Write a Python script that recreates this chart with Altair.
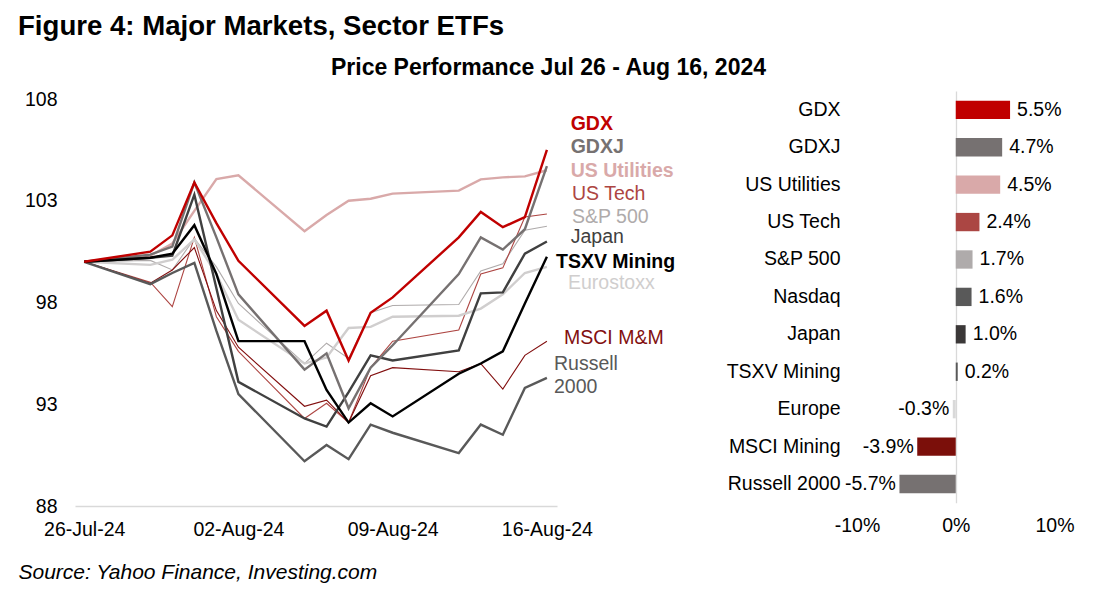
import altair as alt
import pandas as pd
from datetime import datetime, timedelta

FONT = "Liberation Sans"

# ---------------- data: line chart (index, Jul 26 = 100) ----------------
dates = ["2024-07-26", "2024-07-29", "2024-07-30", "2024-07-31", "2024-08-01",
         "2024-08-02", "2024-08-05", "2024-08-06", "2024-08-07", "2024-08-08",
         "2024-08-09", "2024-08-12", "2024-08-13", "2024-08-14", "2024-08-15",
         "2024-08-16"]

series_names = ["Eurostoxx", "S&P 500", "US Utilities", "US Tech", "MSCI M&M",
                "Russell 2000", "Japan", "GDXJ", "TSXV Mining", "GDX"]

eurostoxx = [100, 99.85, 100.1, 101.1, 99.4, 97.15, 95.0, 95.3, 96.75, 96.8, 97.3, 97.35, 97.7, 98.4, 99.45, 99.75]
sp500 = [100, 100.07, 99.6, 101.15, 99.75, 97.95, 95.0, 96.0, 95.25, 97.5, 97.85, 97.9, 99.55, 99.9, 101.55, 101.75]
us_utilities = [100, 100.3, 100.9, 102.5, 104.07, 104.25, 101.5, 102.3, 103.0, 103.1, 103.35, 103.5, 104.05, 104.15, 104.2, 104.5]
us_tech = [100, 99.0, 97.8, 101.2, 97.3, 95.6, 92.3, 93.05, 92.1, 94.8, 96.1, 96.65, 99.4, 99.7, 102.2, 102.35]
msci_mm = [100, 98.95, 99.6, 100.7, 97.6, 95.8, 92.9, 93.2, 92.1, 94.4, 94.8, 94.6, 95.0, 93.75, 95.4, 96.1]
russell = [100, 98.9, 99.45, 99.95, 96.6, 93.5, 90.2, 91.0, 90.3, 92.0, 91.6, 90.6, 92.0, 91.5, 93.8, 94.3]
japan = [100, 100.2, 100.3, 103.3, 98.7, 94.1, 92.3, 91.9, 93.6, 95.4, 95.15, 95.65, 98.45, 98.5, 100.4, 101.0]
gdxj = [100, 100.35, 100.75, 103.9, 101.2, 98.4, 94.7, 95.5, 92.8, 94.8, 95.9, 99.4, 101.2, 100.6, 101.6, 104.7]
tsxv = [100, 100.2, 100.4, 101.8, 99.4, 96.1, 96.1, 93.7, 92.1, 93.05, 92.4, 94.5, 95.0, 95.6, 97.95, 100.25]
gdx = [100, 100.5, 101.3, 103.9, 101.9, 100.05, 96.85, 97.6, 95.15, 97.5, 98.25, 101.2, 102.45, 101.7, 102.2, 105.5]

series_values = [eurostoxx, sp500, us_utilities, us_tech, msci_mm,
                 russell, japan, gdxj, tsxv, gdx]

line_colors = ["#D0CECE", "#AFABAB", "#D9A9A9", "#AD4542", "#820F0F",
               "#595959", "#404040", "#767171", "#000000", "#C00000"]
thin_series = ["S&P 500", "US Tech", "MSCI M&M"]

y_ticks = [88, 93, 98, 103, 108]
x_tick_dates = [(2024, 7, 26), (2024, 8, 2), (2024, 8, 9), (2024, 8, 16)]

# ---------------- data: bar chart (% change) ----------------
bar_names = ["GDX", "GDXJ", "US Utilities", "US Tech", "S&P 500", "Nasdaq",
             "Japan", "TSXV Mining", "Europe", "MSCI Mining", "Russell 2000"]
bar_values = [5.5, 4.7, 4.5, 2.4, 1.7, 1.6, 1.0, 0.2, -0.3, -3.9, -5.7]
bar_colors = ["#C00000", "#767171", "#D9A9A9", "#AB4643", "#AFABAB", "#595959",
              "#3B3838", "#595959", "#D9D9D9", "#7B0F0A", "#767171"]
bar_ticks = [-10, 0, 10]

# ---------------- line label layout ----------------
label_series = ["GDX", "GDXJ", "US Utilities", "US Tech", "S&P 500", "Japan",
                "TSXV Mining", "Eurostoxx", "MSCI M&M", "Russell 2000"]
label_text = ["GDX", "GDXJ", "US Utilities", "US Tech", "S&P 500", "Japan",
              "TSXV Mining", "Eurostoxx", "MSCI M&M", "Russell\n2000"]
label_bold = [True, True, True, False, False, False, True, False, False, False]
label_left_px = [570.7, 570.7, 570.7, 572, 572, 570.7, 556, 568, 564, 554]
label_y_val = [106.77, 105.62, 104.45, 103.32, 102.19, 101.2, 99.99, 98.94, 96.24, 94.98]

# ---------------- geometry ----------------
TOP = 45
W, H = 1098, 592 - TOP
t0 = datetime(2024, 7, 25, 14)
x_range = [75, 557]
px_per_day = (x_range[1] - x_range[0]) / 21.875


def iso(dt):
    return dt.strftime("%Y-%m-%dT%H:%M:%SZ")


rows = []
for name, vals in zip(series_names, series_values):
    for d, v in zip(dates, vals):
        rows.append({"date": d, "series": name, "value": v,
                     "thin": name in thin_series})
lines_df = pd.DataFrame(rows)

lab_df = pd.DataFrame({
    "series": label_series,
    "label": label_text,
    "bold": label_bold,
    "lx": [iso(t0 + timedelta(days=(px - x_range[0]) / px_per_day)) for px in label_left_px],
    "ly": label_y_val,
})

bars_df = pd.DataFrame({"name": bar_names, "value": bar_values})

xs = alt.Scale(type="utc",
               domain=[alt.DateTime(year=2024, month=7, date=25, hours=14, utc=True),
                       alt.DateTime(year=2024, month=8, date=16, hours=11, utc=True)],
               range=x_range)
ys = alt.Scale(domain=[88, 108], range=[506 - TOP, 99 - TOP])
cs = alt.Scale(domain=series_names, range=line_colors)

x_axis = alt.Axis(orient="bottom", offset=-(592 - 506),
                  values=[alt.DateTime(year=a, month=b, date=c, utc=True) for a, b, c in x_tick_dates],
                  labelExpr="utcFormat(datum.value, '%d-%b-%y')",
                  grid=False, ticks=False, tickSize=0, domain=True,
                  domainColor="#D9D9D9", domainWidth=1.5,
                  labelFontSize=19.5, labelColor="#000000", labelFont=FONT,
                  labelPadding=14, labelFlush=False,
                  title="Source: Yahoo Finance, Investing.com",
                  titleX=18, titleY=572 - 506, titleAlign="left", titleBaseline="middle",
                  titleAngle=0, titleFontSize=21, titleFontStyle="italic",
                  titleFontWeight="normal", titleColor="#000000", titleFont=FONT)
y_axis = alt.Axis(orient="left", offset=-75, values=y_ticks,
                  grid=False, ticks=False, tickSize=0, domain=False,
                  labelFontSize=19.5, labelColor="#000000", labelFont=FONT,
                  labelPadding=18,
                  title="Price Performance Jul 26 - Aug 16, 2024",
                  titleX=548 - 75, titleY=67 - TOP, titleAngle=0,
                  titleAlign="center", titleBaseline="middle",
                  titleFontSize=23, titleFontWeight="bold", titleColor="#000000",
                  titleFont=FONT)


def line_layer(thin):
    return alt.Chart(lines_df).transform_filter(
        "datum.thin" if thin else "!datum.thin"
    ).mark_line(strokeWidth=1.1 if thin else 2.4, strokeJoin="miter",
                strokeCap="butt").encode(
        x=alt.X("date:T", scale=xs, axis=x_axis),
        y=alt.Y("value:Q", scale=ys, axis=y_axis),
        color=alt.Color("series:N", scale=cs, legend=None),
        detail="series:N",
    )


def label_layer(bold):
    return alt.Chart(lab_df).transform_filter(
        "datum.bold" if bold else "!datum.bold"
    ).mark_text(align="left", baseline="middle", fontSize=19.5,
                fontWeight="bold" if bold else "normal", font=FONT,
                lineBreak="\n", lineHeight=23.3).encode(
        x=alt.X("lx:T", scale=xs, axis=x_axis),
        y=alt.Y("ly:Q", scale=ys, axis=y_axis),
        text="label:N",
        color=alt.Color("series:N", scale=cs, legend=None),
    )


left = alt.layer(line_layer(True), line_layer(False),
                 label_layer(True), label_layer(False))

# ---------------- bar chart ----------------
bx = alt.Scale(domain=[-10, 10], range=[857, 1054.5])
by = alt.Scale(domain=bar_names, range=[91.1 - TOP, 502.7 - TOP],
               paddingInner=0.51, paddingOuter=0.255)
bc = alt.Scale(domain=bar_names, range=bar_colors)

bx_axis = alt.Axis(orient="bottom", offset=-(592 - 502.5), values=bar_ticks,
                   labelExpr="datum.value + '%'", grid=False, ticks=False,
                   tickSize=0, domain=False, labelFontSize=19.5,
                   labelColor="#000000", labelFont=FONT, labelPadding=14,
                   labelFlush=False, title=None)
by_axis = alt.Axis(orient="left", offset=-956, grid=False, ticks=False,
                   tickSize=0, domain=True, domainColor="#D9D9D9",
                   domainWidth=1.3, labelFontSize=19.5, labelColor="#000000",
                   labelFont=FONT, labelPadding=116, labelLimit=300, title=None)

bars = alt.Chart(bars_df).mark_bar().encode(
    x=alt.X("value:Q", scale=bx, axis=bx_axis),
    y=alt.Y("name:N", scale=by, axis=by_axis, sort=bar_names),
    color=alt.Color("name:N", scale=bc, legend=None),
)


def bar_text(positive):
    return alt.Chart(bars_df).transform_filter(
        "datum.value >= 0" if positive else "datum.value < 0"
    ).transform_calculate(
        lbl="replace(format(datum.value, '.1f'), '\u2212', '-') + '%'"
    ).mark_text(align="left" if positive else "right", baseline="middle",
                dx=7 if positive else -3.5, fontSize=19.5, font=FONT,
                color="#000000").encode(
        x=alt.X("value:Q", scale=bx, axis=bx_axis),
        y=alt.Y("name:N", scale=by, axis=by_axis, sort=bar_names),
        text="lbl:N",
    )


right = alt.layer(bars, bar_text(True), bar_text(False))

chart = alt.layer(left, right).resolve_scale(
    x="independent", y="independent", color="independent"
).resolve_axis(x="independent", y="independent").properties(
    width=W, height=H,
    padding={"left": 0, "top": TOP, "right": 0, "bottom": 0},
    autosize=alt.AutoSizeParams(type="none"),
    background="white",
    title=alt.TitleParams("Figure 4: Major Markets, Sector ETFs", anchor="start",
                          frame="group", dx=18, dy=30, offset=12,
                          baseline="alphabetic", fontSize=27.6, fontWeight="bold",
                          font=FONT, color="#000000"),
).configure(font=FONT, view=alt.ViewConfig(stroke=None))

chart.save("out.html", embed_options={"renderer": "svg", "actions": False})
